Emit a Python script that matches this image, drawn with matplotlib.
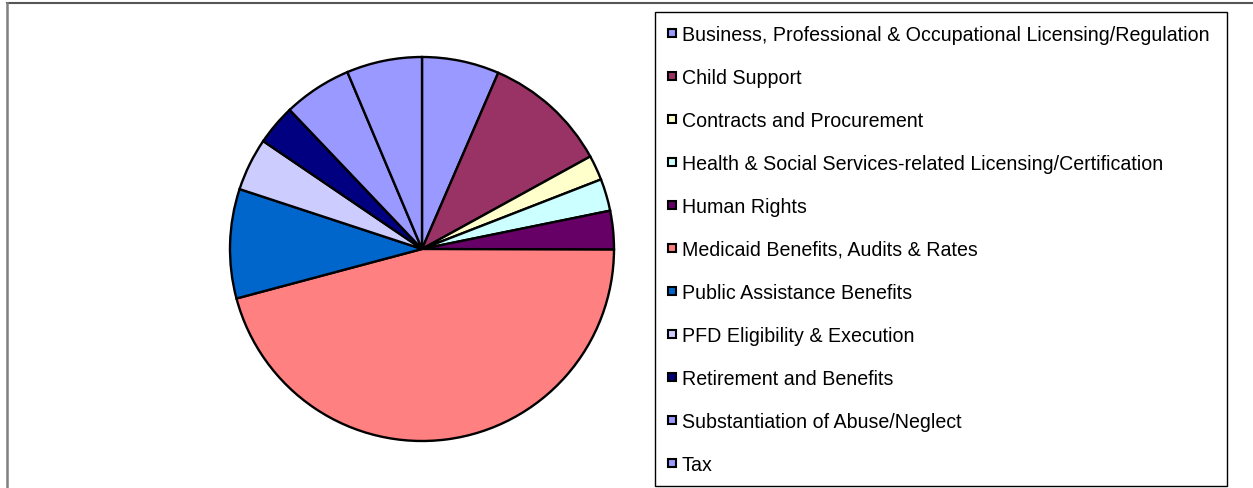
import matplotlib
matplotlib.use("Agg")
import matplotlib.pyplot as plt
from matplotlib.patches import Rectangle
from matplotlib.lines import Line2D

plt.rcParams['font.family'] = ['Liberation Sans', 'DejaVu Sans']

categories = [
    "Business, Professional & Occupational Licensing/Regulation",
    "Child Support",
    "Contracts and Procurement",
    "Health & Social Services-related Licensing/Certification",
    "Human Rights",
    "Medicaid Benefits, Audits & Rates",
    "Public Assistance Benefits",
    "PFD Eligibility & Execution",
    "Retirement and Benefits",
    "Substantiation of Abuse/Neglect",
    "Tax",
]
values = [6.5, 10.5, 2.1, 2.7, 3.25, 45.8, 9.2, 4.45, 3.4, 5.75, 6.35]
colors = ["#9999FF", "#993366", "#FFFFCC", "#CCFFFF", "#660066", "#FF8080",
          "#0066CC", "#CCCCFF", "#000080", "#9999FF", "#9999FF"]

W, H = 1253, 489
fig = plt.figure(figsize=(W / 100, H / 100), dpi=100)

# pie axes: centre (422,250) radius 192 px
cx, cy, r = 422, 250, 192
ax = fig.add_axes([(cx - r) / W, 1 - (cy + r) / H, 2 * r / W, 2 * r / H])
wedges, _ = ax.pie(values, colors=colors, startangle=90, counterclock=False,
                   radius=1, wedgeprops=dict(edgecolor="black", linewidth=1.7))
ax.set_xlim(-1, 1)
ax.set_ylim(-1, 1)
ax.set_aspect("equal")
ax.axis("off")

# outer chart frame (top and left visible)
fig.add_artist(Line2D([7 / W, 1.0], [1 - 4 / H, 1 - 4 / H], transform=fig.transFigure,
                      color="#555555", linewidth=1.5))
fig.add_artist(Line2D([7 / W, 7 / W], [0, 1 - 4 / H], transform=fig.transFigure,
                      color="#808080", linewidth=1.8))

# legend frame
lx0, ly0, lx1, ly1 = 655, 13, 1227, 487
fig.add_artist(Rectangle((lx0 / W, 1 - ly1 / H), (lx1 - lx0) / W, (ly1 - ly0) / H,
                         transform=fig.transFigure, fill=False, edgecolor="black",
                         linewidth=1.0))

handles = [Line2D([0], [0], marker="s", linestyle="none", markersize=6.3,
                  markerfacecolor=c, markeredgecolor="black", markeredgewidth=1.5)
           for c in colors]
leg = fig.legend(handles, categories, loc="upper left",
                 bbox_to_anchor=(666 / W, 1 - 26 / H), bbox_transform=fig.transFigure,
                 frameon=False, fontsize=14.1, handlelength=0.6, handletextpad=0.2,
                 labelspacing=1.225, borderpad=0, borderaxespad=0)

fig.savefig("out.png", dpi=100, facecolor="white")
